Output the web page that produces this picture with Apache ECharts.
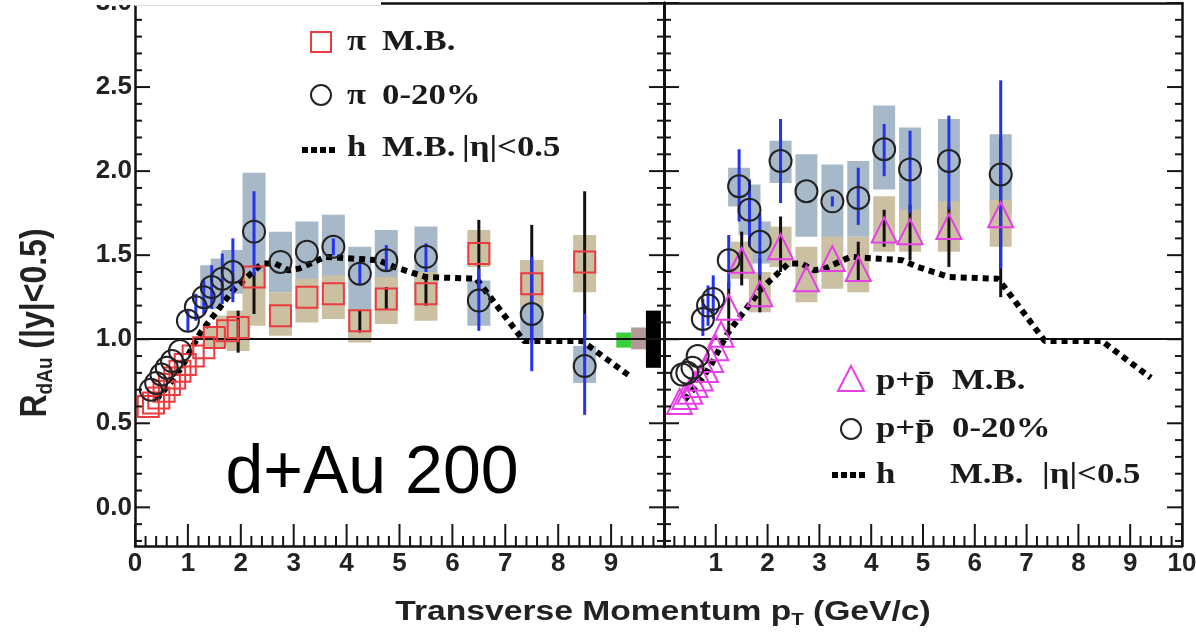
<!DOCTYPE html>
<html><head><meta charset="utf-8">
<script src="https://cdn.jsdelivr.net/npm/echarts@6/dist/echarts.min.js"></script>
<style>html,body{margin:0;padding:0;background:#fff}#c{width:1196px;height:641px}</style>
</head><body><div id="c"></div>
<script>
// ---------- tick labels / tick positions ----------
const xTicksLeft  = [0,1,2,3,4,5,6,7,8,9];
const xTicksRight = [1,2,3,4,5,6,7,8,9,10];
const xMajor = [0,1,2,3,4,5,6,7,8,9,10];
const xMinor = [0.2,0.4,0.6,0.8,1.2,1.4,1.6,1.8,2.2,2.4,2.6,2.8,3.2,3.4,3.6,3.8,4.2,4.4,4.6,4.8,5.2,5.4,5.6,5.8,6.2,6.4,6.6,6.8,7.2,7.4,7.6,7.8,8.2,8.4,8.6,8.8,9.2,9.4,9.6,9.8];
const yMajor = [0,0.5,1.0,1.5,2.0,2.5,3.0];
const yMinor = [-0.2,-0.1,0.1,0.2,0.3,0.4,0.6,0.7,0.8,0.9,1.1,1.2,1.3,1.4,1.6,1.7,1.8,1.9,2.1,2.2,2.3,2.4,2.6,2.7,2.8,2.9];

// ---------- left panel: pi M.B. ----------
const piMB_pt     = [0.25,0.35,0.45,0.55,0.65,0.75,0.85,0.95,1.1,1.3,1.5,1.75,1.95,2.25,2.75,3.25,3.75,4.25,4.75,5.5,6.5,7.5,8.5];
const piMB_val    = [0.60,0.62,0.65,0.69,0.73,0.77,0.81,0.85,0.90,0.95,1.01,1.05,1.07,1.37,1.14,1.25,1.27,1.11,1.24,1.27,1.51,1.33,1.46];
const piMB_statLo = [null,null,null,null,null,null,null,null,null,null,null,null,0.92,1.15,null,null,null,1.04,1.18,1.20,1.30,0.98,1.00];
const piMB_statHi = [null,null,null,null,null,null,null,null,null,null,null,null,1.17,1.40,null,null,null,1.17,1.31,1.36,1.71,1.68,1.88];
const piMB_sysLo  = [null,null,null,null,null,null,null,null,null,null,0.95,0.96,0.93,1.08,1.02,1.10,1.12,0.98,1.09,1.11,1.43,1.20,1.28];
const piMB_sysHi  = [null,null,null,null,null,null,null,null,null,null,1.08,1.14,1.17,1.40,1.28,1.36,1.38,1.18,1.37,1.40,1.65,1.47,1.62];

// ---------- left panel: pi 0-20% ----------
const piC_pt     = [0.3,0.4,0.5,0.6,0.7,0.85,1.0,1.15,1.3,1.45,1.65,1.85,2.25,2.75,3.25,3.75,4.25,4.75,5.5,6.5,7.5,8.5];
const piC_val    = [0.70,0.74,0.79,0.83,0.87,0.93,1.11,1.19,1.25,1.31,1.36,1.40,1.64,1.46,1.52,1.55,1.39,1.47,1.49,1.23,1.15,0.84];
const piC_statLo = [null,null,null,null,null,null,1.05,1.11,1.15,1.18,1.21,1.22,1.38,null,null,1.50,1.32,1.40,1.40,1.05,0.81,0.55];
const piC_statHi = [null,null,null,null,null,null,1.17,1.27,1.35,1.44,1.51,1.60,1.88,null,null,1.60,1.46,1.56,1.57,1.42,1.49,1.15];
const piC_sysLo  = [null,null,null,null,null,null,null,null,null,1.18,1.24,1.27,1.30,1.28,1.33,1.36,1.00,1.28,1.30,1.08,1.00,0.74];
const piC_sysHi  = [null,null,null,null,null,null,null,null,null,1.44,1.48,1.53,1.99,1.64,1.70,1.74,1.55,1.65,1.67,1.35,1.47,0.96];

// ---------- right panel: p+pbar M.B. ----------
const pMB_pt     = [0.3,0.4,0.5,0.6,0.7,0.8,0.9,1.0,1.1,1.25,1.5,1.85,2.25,2.75,3.25,3.75,4.25,4.75,5.5,6.5];
const pMB_val    = [0.63,0.66,0.69,0.73,0.77,0.82,0.88,0.95,1.03,1.19,1.47,1.27,1.55,1.36,1.48,1.42,1.65,1.64,1.67,1.74];
const pMB_statLo = [null,null,null,null,null,null,null,null,null,1.05,1.32,1.16,1.40,null,null,1.34,1.55,1.47,1.43,1.25];
const pMB_statHi = [null,null,null,null,null,null,null,null,null,1.34,1.64,1.48,1.73,null,null,1.58,1.77,1.80,1.79,2.20];
const pMB_sysLo  = [null,null,null,null,null,null,null,null,null,null,1.36,1.16,1.43,1.22,1.30,1.28,1.52,1.52,1.52,1.55];
const pMB_sysHi  = [null,null,null,null,null,null,null,null,null,null,1.58,1.40,1.67,1.55,1.61,1.61,1.85,1.77,1.82,1.83];

// ---------- right panel: p+pbar 0-20% ----------
const pC_pt     = [0.35,0.45,0.55,0.65,0.75,0.85,0.95,1.25,1.45,1.65,1.85,2.25,2.75,3.25,3.75,4.25,4.75,5.5,6.5];
const pC_val    = [0.79,0.80,0.83,0.90,1.12,1.20,1.24,1.47,1.91,1.77,1.58,2.06,1.88,1.82,1.84,2.13,2.01,2.06,1.98];
const pC_statLo = [null,null,null,null,1.02,1.08,1.12,1.30,1.70,1.55,1.38,1.81,null,1.79,1.68,1.97,1.75,1.77,1.42];
const pC_statHi = [null,null,null,null,1.24,1.32,1.38,1.62,2.13,1.95,1.75,2.31,null,1.85,2.02,2.28,2.24,2.33,2.54];
const pC_sysLo  = [null,null,null,null,null,null,null,null,1.79,1.62,1.45,1.93,1.61,1.60,1.61,1.89,1.58,1.77,1.75];
const pC_sysHi  = [null,null,null,null,null,null,null,null,2.02,1.92,1.70,2.18,2.10,2.04,2.06,2.39,2.26,2.31,2.22];

// ---------- charged hadrons M.B. |eta|<0.5 (same curve in both panels) ----------
const h_pt  = [0.4,0.75,0.93,1.08,1.24,1.41,1.56,1.85,2.05,2.4,2.65,2.9,3.1,3.6,4.6,4.9,5.5,6.45,7.35,8.45,9.4];
const h_val = [0.64,0.77,0.86,0.95,1.04,1.11,1.17,1.29,1.35,1.45,1.45,1.41,1.42,1.49,1.47,1.43,1.37,1.36,0.99,0.99,0.77];

// ---------- normalization uncertainty boxes at R=1 (left panel, right edge) ----------
const norm_x  = [9.24,9.52,9.80];
const norm_lo = [0.95,0.94,0.83];
const norm_hi = [1.04,1.07,1.17];

const X_MIN = 0, X_MAX = 10, Y_MIN = -0.23, Y_MAX = 3.0;
const C = {red:'#ec3b3f', tan:'#cbc1a2', gray:'#a7b8c9', blue:'#2433ee', mag:'#e540e5', ink:'#111'};
const NORM_COLORS = ['#3ccf3c','#b39a99','#000000'];

function zip(a,b){ return a.map((v,i)=>[v,b[i]]); }
function triples(pt,lo,hi){ const d=[]; pt.forEach((p,i)=>{ if(lo[i]!=null) d.push([p,lo[i],hi[i]]); }); return d; }

function boxSeries(xi, yi, data, color, z, w){
  return {type:'custom', xAxisIndex:xi, yAxisIndex:yi, z:z, silent:true, data:data,
    encode:{x:0, y:[1,2]},
    renderItem(params, api){
      const x = api.value(0);
      const a = api.coord([x, api.value(1)]), b = api.coord([x, api.value(2)]);
      const c = typeof color === 'function' ? color(params.dataIndex) : color;
      return {type:'rect', shape:{x:a[0]-w/2, y:b[1], width:w, height:a[1]-b[1]}, style:{fill:c}};
    }};
}
function barSeries(xi, yi, data, color, z){
  return {type:'custom', xAxisIndex:xi, yAxisIndex:yi, z:z, silent:true, data:data,
    encode:{x:0, y:[1,2]},
    renderItem(params, api){
      const x = api.value(0);
      const a = api.coord([x, api.value(1)]), b = api.coord([x, api.value(2)]);
      return {type:'line', shape:{x1:a[0], y1:a[1], x2:b[0], y2:b[1]}, style:{stroke:color, lineWidth:3}};
    }};
}
// frame ticks as thin filled rectangles; item = [value, kind]
// kind 0 = x major, 1 = x minor, 2 = y major, 3 = y minor
function tickSeries(xi, yi){
  const data = [];
  xMajor.forEach(v => data.push([v,0]));
  xMinor.forEach(v => data.push([v,1]));
  yMajor.forEach(v => data.push([v,2]));
  yMinor.forEach(v => data.push([v,3]));
  return {type:'custom', xAxisIndex:xi, yAxisIndex:yi, z:40, silent:true, data:data,
    encode:{x:0}, clip:false,
    renderItem(params, api){
      const v = api.value(0), k = api.value(1);
      const fill = '#151515';
      if (k < 2){
        const p = api.coord([v, Y_MIN]); const L = k === 0 ? 22 : 10;
        return {type:'rect', shape:{x:p[0]-1, y:p[1]-L, width:2, height:L}, style:{fill:fill}};
      }
      const a = api.coord([X_MIN, v]), b = api.coord([X_MAX, v]); const L = k === 2 ? 15 : 7;
      return {type:'group', children:[
        {type:'rect', shape:{x:a[0], y:a[1]-1, width:L, height:2}, style:{fill:fill}},
        {type:'rect', shape:{x:b[0]-L, y:b[1]-1, width:L, height:2}, style:{fill:fill}}]};
    }};
}
function markerSeries(xi, yi, data, symbol, size, color, z){
  return {type:'scatter', xAxisIndex:xi, yAxisIndex:yi, z:z, silent:true, data:data,
    symbol:symbol, symbolSize:size,
    itemStyle:{color:'rgba(0,0,0,0)', borderColor:color, borderWidth:2, opacity:1}};
}
function hSeries(xi, yi){
  return {type:'line', xAxisIndex:xi, yAxisIndex:yi, z:6, silent:true, data:zip(h_pt,h_val),
    symbol:'none', showSymbol:false,
    lineStyle:{color:'#000', width:6, type:[6,5], cap:'butt'},
    markLine:{symbol:'none', silent:true, animation:false, label:{show:false},
      lineStyle:{color:'#111', width:2, type:'solid'}, data:[{yAxis:1}]}};
}

const labelFont = {fontFamily:'Liberation Sans', fontWeight:'bold', fontSize:26, color:'#222'};

function xAx(grid, ticks){
  return {type:'value', gridIndex:grid, min:X_MIN, max:X_MAX, interval:1, position:'bottom',
    axisLine:{show:true, onZero:false, lineStyle:{color:C.ink, width:2.5}},
    axisTick:{show:false}, minorTick:{show:false},
    axisLabel:Object.assign({show:true, margin:5,
      formatter:(v)=> ticks.indexOf(v) >= 0 ? String(v) : ''}, labelFont),
    splitLine:{show:false}};
}
function xTop(grid){
  return {type:'value', gridIndex:grid, min:X_MIN, max:X_MAX, interval:1, position:'top',
    axisLine:{show:true, onZero:false, lineStyle:{color:C.ink, width:2.5}},
    axisTick:{show:false}, axisLabel:{show:false}, splitLine:{show:false}};
}
function yAx(grid, pos, showLabel, lw){
  return {type:'value', gridIndex:grid, position:pos, min:Y_MIN, max:Y_MAX,
    axisLine:{show:true, onZero:false, lineStyle:{color:C.ink, width:lw}},
    axisTick:{show:false},
    axisLabel:Object.assign({show:showLabel, margin:3, customValues:yMajor,
      formatter:(v)=> v.toFixed(1)}, labelFont),
    splitLine:{show:false}};
}

const chart = echarts.init(document.getElementById('c'), null, {renderer:'canvas'});

const serif = 'bold 29px "Liberation Serif"';
function legendText(x, y, t){
  return {type:'text', x:x, y:y, z:50, scaleX:1.2, style:{text:t, font:serif, fill:'#1a1a1a', align:'left', verticalAlign:'middle'}};
}
function legendDots(x, y){
  const out = [];
  for (let i=0;i<4;i++) out.push({type:'rect', z:50, shape:{x:x+i*9, y:y-3, width:6, height:6}, style:{fill:'#000'}});
  return out;
}

const graphics = [
  {type:'text', x:372, y:474, z:50, style:{text:'d+Au 200', font:'68px "Liberation Sans"', fill:'#000', align:'center', verticalAlign:'middle'}},
  {type:'rect', z:50, shape:{x:311, y:32, width:20, height:20}, style:{fill:'none', stroke:C.red, lineWidth:2}},
  legendText(347, 43, 'π'), legendText(382, 43, 'M.B.'),
  {type:'circle', z:50, shape:{cx:321, cy:95, r:10}, style:{fill:'none', stroke:'#222', lineWidth:2}},
  legendText(347, 97, 'π'), legendText(382, 97, '0-20%'),
  ...legendDots(302, 150),
  legendText(347, 149, 'h'), legendText(382, 149, 'M.B.'), legendText(462, 149, '|η|<0.5'),
  {type:'polygon', z:50, shape:{points:[[851,366],[864,391],[838,391]]}, style:{fill:'none', stroke:C.mag, lineWidth:2}},
  legendText(876, 382, 'p+p\u0304'), legendText(952, 382, 'M.B.'),
  {type:'circle', z:50, shape:{cx:851, cy:429, r:10}, style:{fill:'none', stroke:'#222', lineWidth:2}},
  legendText(876, 430, 'p+p\u0304'), legendText(952, 430, '0-20%'),
  ...legendDots(832, 475),
  legendText(876, 476, 'h'), legendText(950, 476, 'M.B.'), legendText(1042, 476, '|η|<0.5'),
  {type:'text', x:663, y:612, z:50, scaleX:1.2, style:{
    text:'{a|Transverse Momentum p}{s|T}{a| (GeV/c)}', align:'center', verticalAlign:'middle',
    rich:{a:{fontFamily:'Liberation Sans', fontWeight:'bold', fontSize:28, fill:'#222'},
          s:{fontFamily:'Liberation Sans', fontWeight:'bold', fontSize:17, fill:'#222', padding:[16,0,0,0]}}}},
  {type:'text', x:36, y:323, rotation:Math.PI/2, scaleY:1.15, z:50, style:{
    text:'{a|R}{s|dAu}{a| (|y|<0.5)}', align:'center', verticalAlign:'middle',
    rich:{a:{fontFamily:'Liberation Sans', fontWeight:'bold', fontSize:32, fill:'#222'},
          s:{fontFamily:'Liberation Sans', fontWeight:'bold', fontSize:19, fill:'#222', padding:[18,0,0,0]}}}},
  {type:'rect', z:100, shape:{x:0, y:0, width:381, height:5}, style:{fill:'#fff'}},
  {type:'rect', z:100, shape:{x:135, y:5, width:246, height:1}, style:{fill:'#dcdcdc'}}
];

const normData = norm_x.map((x,i)=>[x, norm_lo[i], norm_hi[i]]);

const option = {
  animation:false,
  backgroundColor:'#fff',
  grid:[
    {left:135, top:3, width:529, bottom:95, containLabel:false, outerBoundsMode:'none'},
    {left:664, top:3, width:518, bottom:95, containLabel:false, outerBoundsMode:'none'}
  ],
  xAxis:[xAx(0, xTicksLeft), xAx(1, xTicksRight), xTop(0), xTop(1)],
  yAxis:[
    yAx(0,'left',true,2.5), yAx(0,'right',false,3),
    yAx(1,'left',false,3), yAx(1,'right',false,2.5)
  ],
  series:[
    boxSeries(0,0,triples(piC_pt,piC_sysLo,piC_sysHi), C.gray, 1, 23),
    boxSeries(0,0,triples(piMB_pt,piMB_sysLo,piMB_sysHi), C.tan, 2, 23),
    boxSeries(0,0,normData, (i)=>NORM_COLORS[i], 2, 15),
    hSeries(0,0),
    barSeries(0,0,triples(piMB_pt,piMB_statLo,piMB_statHi), '#111', 7),
    barSeries(0,0,triples(piC_pt,piC_statLo,piC_statHi), C.blue, 8),
    markerSeries(0,0,zip(piMB_pt,piMB_val),'rect',21,C.red,9),
    markerSeries(0,0,zip(piC_pt,piC_val),'circle',22,'#222',10),
    boxSeries(1,2,triples(pC_pt,pC_sysLo,pC_sysHi), C.gray, 1, 22),
    boxSeries(1,2,triples(pMB_pt,pMB_sysLo,pMB_sysHi), C.tan, 2, 22),
    hSeries(1,2),
    barSeries(1,2,triples(pMB_pt,pMB_statLo,pMB_statHi), '#111', 7),
    barSeries(1,2,triples(pC_pt,pC_statLo,pC_statHi), C.blue, 8),
    markerSeries(1,2,zip(pMB_pt,pMB_val),'triangle',25,C.mag,9),
    markerSeries(1,2,zip(pC_pt,pC_val),'circle',22,'#222',10),
    tickSeries(0,0),
    tickSeries(1,2)
  ],
  graphic:graphics
};
chart.setOption(option);
</script>
</body></html>
